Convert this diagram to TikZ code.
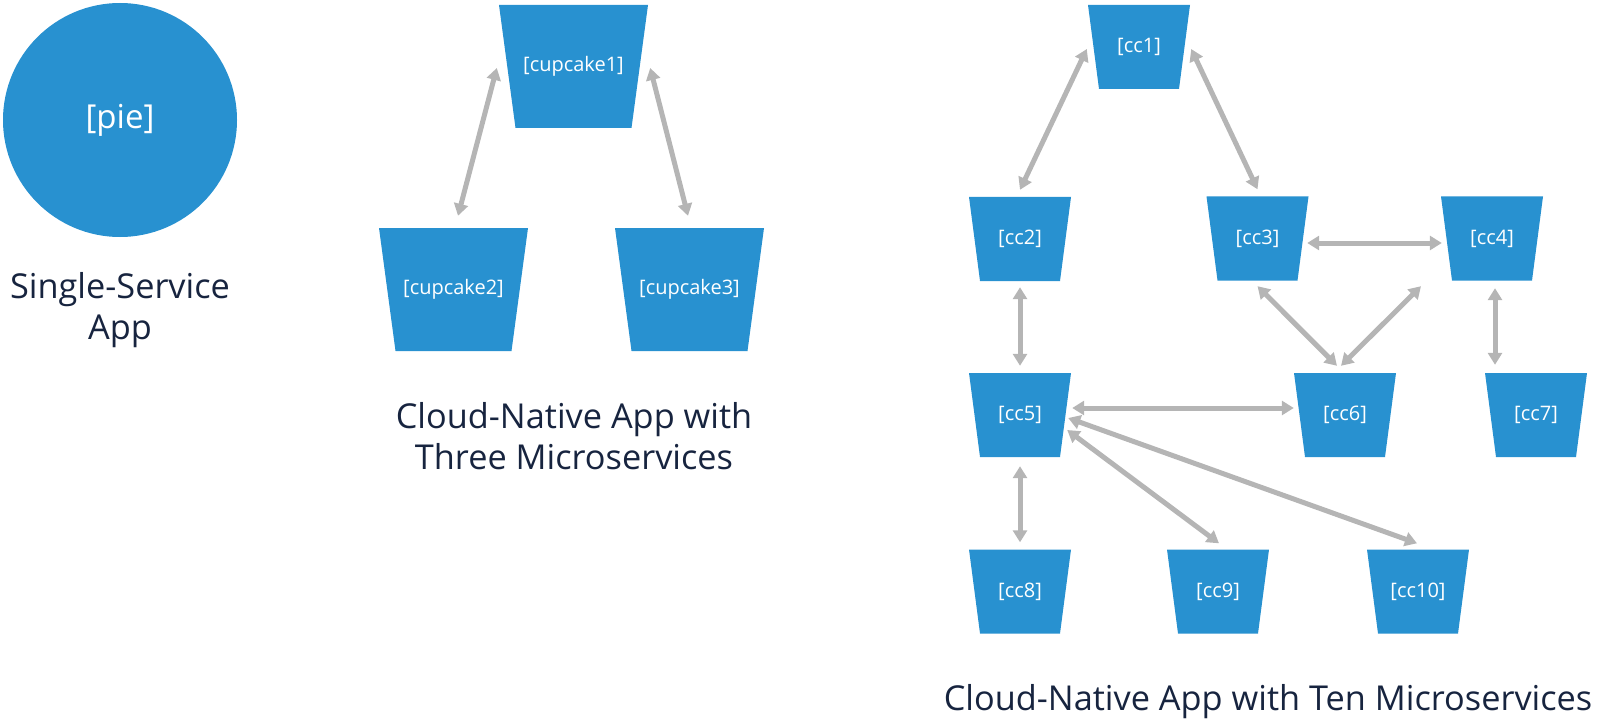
\documentclass[tikz,border=0pt]{standalone}
\usepackage{fontspec}
\setmainfont{Open Sans}
\usetikzlibrary{calc,arrows.meta}
\definecolor{cblue}{HTML}{2891D0}
\definecolor{ctext}{HTML}{17243F}
\definecolor{cgray}{HTML}{B5B5B5}
\tikzset{
  smallcup/.style={rectangle, minimum width=102pt, minimum height=84pt, inner sep=0pt,
    text=white, font=\fontsize{20}{24}\selectfont,
    path picture={\fill[cblue] (path picture bounding box.north west) -- (path picture bounding box.north east)
      -- ([xshift=-11pt]path picture bounding box.south east) -- ([xshift=11pt]path picture bounding box.south west) -- cycle;}},
  bigcup/.style={rectangle, minimum width=149pt, minimum height=123pt, inner sep=0pt,
    text=white, font=\fontsize{20}{24}\selectfont,
    path picture={\fill[cblue] (path picture bounding box.north west) -- (path picture bounding box.north east)
      -- ([xshift=-16.5pt]path picture bounding box.south east) -- ([xshift=16.5pt]path picture bounding box.south west) -- cycle;}},
  caption/.style={text=ctext, font=\fontsize{34.3}{41}\selectfont, align=center, inner sep=0pt},
  link/.style={cgray, line width=5pt, {Triangle[length=12pt,width=14pt]}-{Triangle[length=12pt,width=14pt]}},
}
\begin{document}
\begin{tikzpicture}[x=1pt,y=-1pt]
\useasboundingbox (0,0) rectangle (1600,722);
% single service
\node[circle, fill=cblue, minimum size=234pt, inner sep=0pt, text=white, font=\fontsize{33}{40}\selectfont] (pie) at (120,120) {[pie]};
\node[caption] (cap1) at (120,310) {Single-Service\\App};
% three microservices
\node[bigcup] (c1) at (573.5,66.5) {[cupcake1]};
\node[bigcup] (c2) at (453.5,289.5) {[cupcake2]};
\node[bigcup] (c3) at (689.5,289.5) {[cupcake3]};
\draw[link] ($(c1.west)+(-2,1.5)$) -- ($(c2.north)+(4.5,-12)$);
\draw[link] ($(c1.east)+(2,1.5)$) -- ($(c3.north)+(-1.5,-12)$);
\node[caption] (cap2) at (574,436) {Cloud-Native App with\\Three Microservices};
% ten microservices
\node[smallcup] (cc1) at (1139,47) {[cc1]};
\node[smallcup] (cc2) at (1020,239) {[cc2]};
\node[smallcup] (cc3) at (1257.5,238.5) {[cc3]};
\node[smallcup] (cc4) at (1492,238.5) {[cc4]};
\node[smallcup] (cc5) at (1020,415) {[cc5]};
\node[smallcup] (cc6) at (1345,415) {[cc6]};
\node[smallcup] (cc7) at (1536,415) {[cc7]};
\node[smallcup] (cc8) at (1020,591.5) {[cc8]};
\node[smallcup] (cc9) at (1218,591.5) {[cc9]};
\node[smallcup] (cc10) at (1418,591.5) {[cc10]};
\draw[link] ($(cc1.west)+(-1,2)$) -- ($(cc2.north)+(0,-7)$);
\draw[link] ($(cc1.east)+(1,2)$) -- ($(cc3.north)+(0,-7)$);
\draw[link] ($(cc3.east)+(-1.5,4.5)$) -- ($(cc4.west)+(1,4.5)$);
\draw[link] ($(cc2.south)+(0,6)$) -- ($(cc5.north)+(0,-7)$);
\draw[link] ($(cc3.south)+(0,5.5)$) -- ($(cc6.north)+(-8,-7)$);
\draw[link] ($(cc4.south)+(-71,5.5)$) -- ($(cc6.north)+(-4,-7)$);
\draw[link] ($(cc4.south)+(3,7.5)$) -- ($(cc7.north)+(-41,-8)$);
\draw[link] ($(cc5.east)+(1,-7)$) -- ($(cc6.west)+(0,-7)$);
\draw[link] ($(cc5.east)+(-4,15)$) -- ($(cc9.north)+(1,-6)$);
\draw[link] ($(cc5.east)+(-3,3)$) -- ($(cc10.north)+(-1,-6)$);
\draw[link] ($(cc5.south)+(0,9)$) -- ($(cc8.north)+(0,-7)$);
\node[caption, anchor=base] (cap3) at (1268,710) {Cloud-Native App with Ten Microservices};
\end{tikzpicture}
\end{document}
